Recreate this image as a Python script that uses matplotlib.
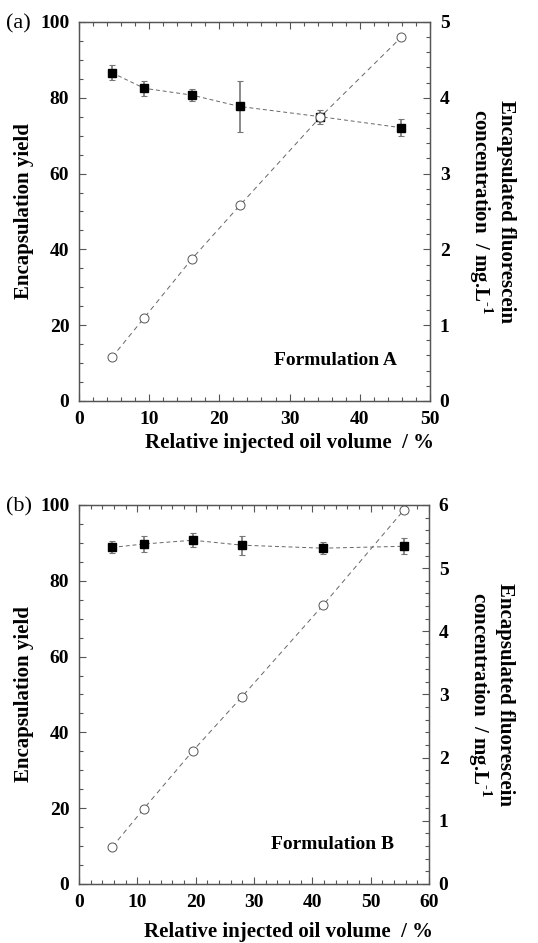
import matplotlib
matplotlib.use("Agg")
import matplotlib.pyplot as plt
from matplotlib.ticker import MultipleLocator
import numpy as np

# Formulation A
X_A = [4.7, 9.3, 16.1, 22.9, 34.4, 45.9]
YIELD_A = [86.6, 82.5, 80.7, 77.7, 75.0, 72.1]
YIELD_ERR_A = [2.0, 2.0, 1.5, 6.6, 1.8, 2.2]
CONC_A = [0.576, 1.098, 1.876, 2.579, 3.748, 4.798]

# Formulation B
X_B = [5.7, 11.1, 19.5, 27.9, 41.8, 55.7]
YIELD_B = [88.8, 89.7, 90.7, 89.4, 88.6, 89.1]
YIELD_ERR_B = [1.6, 2.1, 1.8, 2.5, 1.5, 2.1]
CONC_B = [0.586, 1.19, 2.105, 2.96, 4.41, 5.92]

plt.rcParams["font.family"] = "Liberation Serif"
plt.rcParams["mathtext.fontset"] = "custom"
plt.rcParams["mathtext.rm"] = "Liberation Serif:bold"
plt.rcParams["mathtext.bf"] = "Liberation Serif:bold"

SPINE = "#555555"
LINE = "#666666"


def style(ax):
    for s in ax.spines.values():
        s.set_color(SPINE)
        s.set_linewidth(0.9)
    ax.tick_params(which="both", direction="in", color=SPINE, width=0.8,
                   labelsize=14, pad=7)
    ax.tick_params(which="major", length=5)
    ax.tick_params(which="minor", length=3)
    for lab in ax.get_xticklabels() + ax.get_yticklabels():
        lab.set_fontweight("bold")


def panel(fig, rect, x, yld, err, conc, xmax, cmax, tag, formulation, ftxt_xy, xlab_y):
    ax = fig.add_axes(rect)
    ax.errorbar(x, yld, yerr=err, fmt="s", color="black", markersize=5.5,
                ecolor="#777777", elinewidth=1.2, capsize=2.5, capthick=0.8,
                zorder=5)
    ax.plot(x, yld, linestyle=(0, (4, 3)), color=LINE, linewidth=0.7, zorder=4)
    ax.set_xlim(0, xmax)
    ax.set_ylim(0, 100)
    ax.xaxis.set_major_locator(MultipleLocator(10))
    ax.xaxis.set_minor_locator(MultipleLocator(2))
    ax.yaxis.set_major_locator(MultipleLocator(20))
    ax.yaxis.set_minor_locator(MultipleLocator(5))
    ax.tick_params(which="both", top=True)
    ax.set_ylabel("Encapsulation yield", fontsize=15, fontweight="bold", labelpad=4)
    ax.set_xlabel("Relative injected oil volume  / %", fontsize=15,
                  fontweight="bold")
    ax.xaxis.set_label_coords(0.6, xlab_y)

    ax2 = ax.twinx()
    ax2.plot(x, conc, marker="o", markersize=6.5, markerfacecolor="white",
             markeredgecolor="#555555", markeredgewidth=0.7,
             linestyle=(0, (5, 4)), color=LINE, linewidth=0.7)
    ax2.set_ylim(0, cmax)
    ax2.yaxis.set_major_locator(MultipleLocator(1))
    ax2.yaxis.set_minor_locator(MultipleLocator(0.2))
    ax2.set_ylabel("Encapsulated fluorescein\nconcentration  / mg.L$^{\\text{-1}}$",
                   fontsize=15, fontweight="bold", rotation=-90, labelpad=48,
                   linespacing=1.1)
    style(ax)
    style(ax2)

    ax.text(ftxt_xy[0], ftxt_xy[1], formulation, fontsize=14, fontweight="bold",
            ha="center", va="center")
    fig.text(0.012, rect[1] + rect[3] - 0.002, tag, fontsize=16, ha="left", va="center")
    return ax, ax2


fig = plt.figure(figsize=(5.38, 9.43), dpi=100)
panel(fig, [0.1468, 0.5748, 0.6524, 0.4019], X_A, YIELD_A, YIELD_ERR_A, CONC_A,
      50, 5, "(a)", "Formulation A", (36.5, 10.8), -0.085)
panel(fig, [0.1468, 0.0626, 0.6506, 0.4019], X_B, YIELD_B, YIELD_ERR_B, CONC_B,
      60, 6, "(b)", "Formulation B", (43.5, 10.3), -0.1)

fig.savefig("out.png", dpi=100)
